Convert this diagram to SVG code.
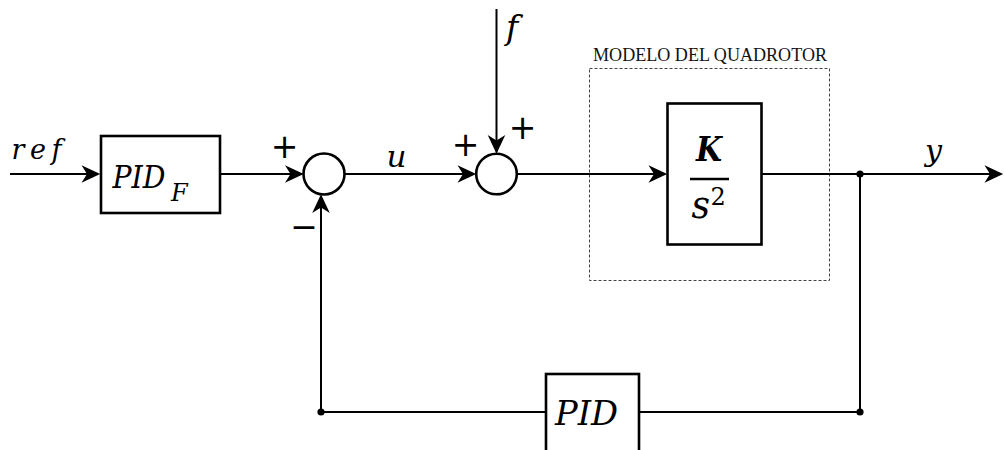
<svg xmlns="http://www.w3.org/2000/svg" width="1004" height="450" viewBox="0 0 1004 450">
<style>
.ln{fill:none;stroke:#000;stroke-width:2}
.blk{fill:#fff;stroke:#000;stroke-width:2.6}
.sum{fill:#fff;stroke:#000;stroke-width:2.6}
.math{font-family:"DejaVu Serif","Liberation Serif",serif;font-style:italic;fill:#000}
.sign{font-family:"DejaVu Sans","Liberation Sans",sans-serif;font-size:33px;fill:#000;text-anchor:middle}
.lbl{font-family:"Liberation Serif","DejaVu Serif",serif;font-size:19px;fill:#111}
</style>
<defs>
<marker id="arr" markerUnits="userSpaceOnUse" markerWidth="22" markerHeight="20" viewBox="-16 -9 20 18" refX="0" refY="0" orient="auto">
<path d="M2,0 L-15,-8 L-10,0 L-15,8 Z" fill="#000"/>
</marker>
</defs>
<rect width="1004" height="450" fill="#fff"/>

<g id="plant-frame">
<rect x="589.5" y="68.5" width="240" height="212" fill="none" stroke="#444" stroke-width="1" stroke-dasharray="3,2"/>
<text class="lbl" x="593" y="60.5" textLength="234" lengthAdjust="spacingAndGlyphs">MODELO DEL QUADROTOR</text>
</g>

<g id="connectors">
<path class="ln" d="M10,174 H98" marker-end="url(#arr)"/>
<path class="ln" d="M220,174 H301.5" marker-end="url(#arr)"/>
<path class="ln" d="M344.5,174 H474" marker-end="url(#arr)"/>
<path class="ln" d="M496.5,9 V151.5" marker-end="url(#arr)"/>
<path class="ln" d="M517,174 H665" marker-end="url(#arr)"/>
<path class="ln" d="M762,174 H1001" marker-end="url(#arr)"/>
<path class="ln" d="M860,174 V412 H639"/>
<path class="ln" d="M546,412 H321 V196.5" marker-end="url(#arr)"/>
<circle cx="860" cy="174" r="3.6" fill="#000"/>
<circle cx="860" cy="412" r="3.6" fill="#000"/>
<circle cx="321" cy="412" r="3.6" fill="#000"/>
</g>

<g id="ref-label">
<text class="math" x="11.5" y="158.5" font-size="27" textLength="50" lengthAdjust="spacing">ref</text>
</g>

<g id="pid-f">
<rect class="blk" x="101" y="136" width="119" height="77"/>
<text class="math" x="112.5" y="187.5" font-size="31" textLength="53" lengthAdjust="spacingAndGlyphs">PID</text>
<text class="math" x="171" y="201" font-size="24">F</text>
</g>

<g id="sum1">
<circle class="sum" cx="324" cy="174" r="20.5"/>
<text class="sign" x="284.5" y="157.5">+</text>
<text class="sign" x="304" y="237.5">−</text>
</g>

<g id="u-label">
<text class="math" x="386.5" y="166.5" font-size="29" textLength="20" lengthAdjust="spacingAndGlyphs">u</text>
</g>

<g id="f-label">
<text class="math" x="506" y="39" font-size="33">f</text>
</g>

<g id="sum2">
<circle class="sum" cx="496.5" cy="174" r="20.3"/>
<text class="sign" x="465.5" y="155.5">+</text>
<text class="sign" x="522.5" y="138.5">+</text>
</g>

<g id="plant">
<rect class="blk" x="667.5" y="103.5" width="94" height="141"/>
<text class="math" x="696" y="161" font-size="34" font-weight="bold" textLength="26" lengthAdjust="spacingAndGlyphs">K</text>
<line x1="690" y1="179" x2="729" y2="179" stroke="#000" stroke-width="2.6"/>
<text class="math" x="691.5" y="217.5" font-size="40" textLength="18.5" lengthAdjust="spacingAndGlyphs">s</text>
<text x="710.5" y="205" font-size="24" font-family="DejaVu Serif, Liberation Serif, serif" fill="#000">2</text>
</g>

<g id="y-label">
<text class="math" x="925" y="161" font-size="29" textLength="17" lengthAdjust="spacingAndGlyphs">y</text>
</g>

<g id="pid">
<rect class="blk" x="546" y="374" width="93" height="100"/>
<text class="math" x="555" y="425" font-size="33" textLength="63" lengthAdjust="spacingAndGlyphs">PID</text>
</g>
</svg>
